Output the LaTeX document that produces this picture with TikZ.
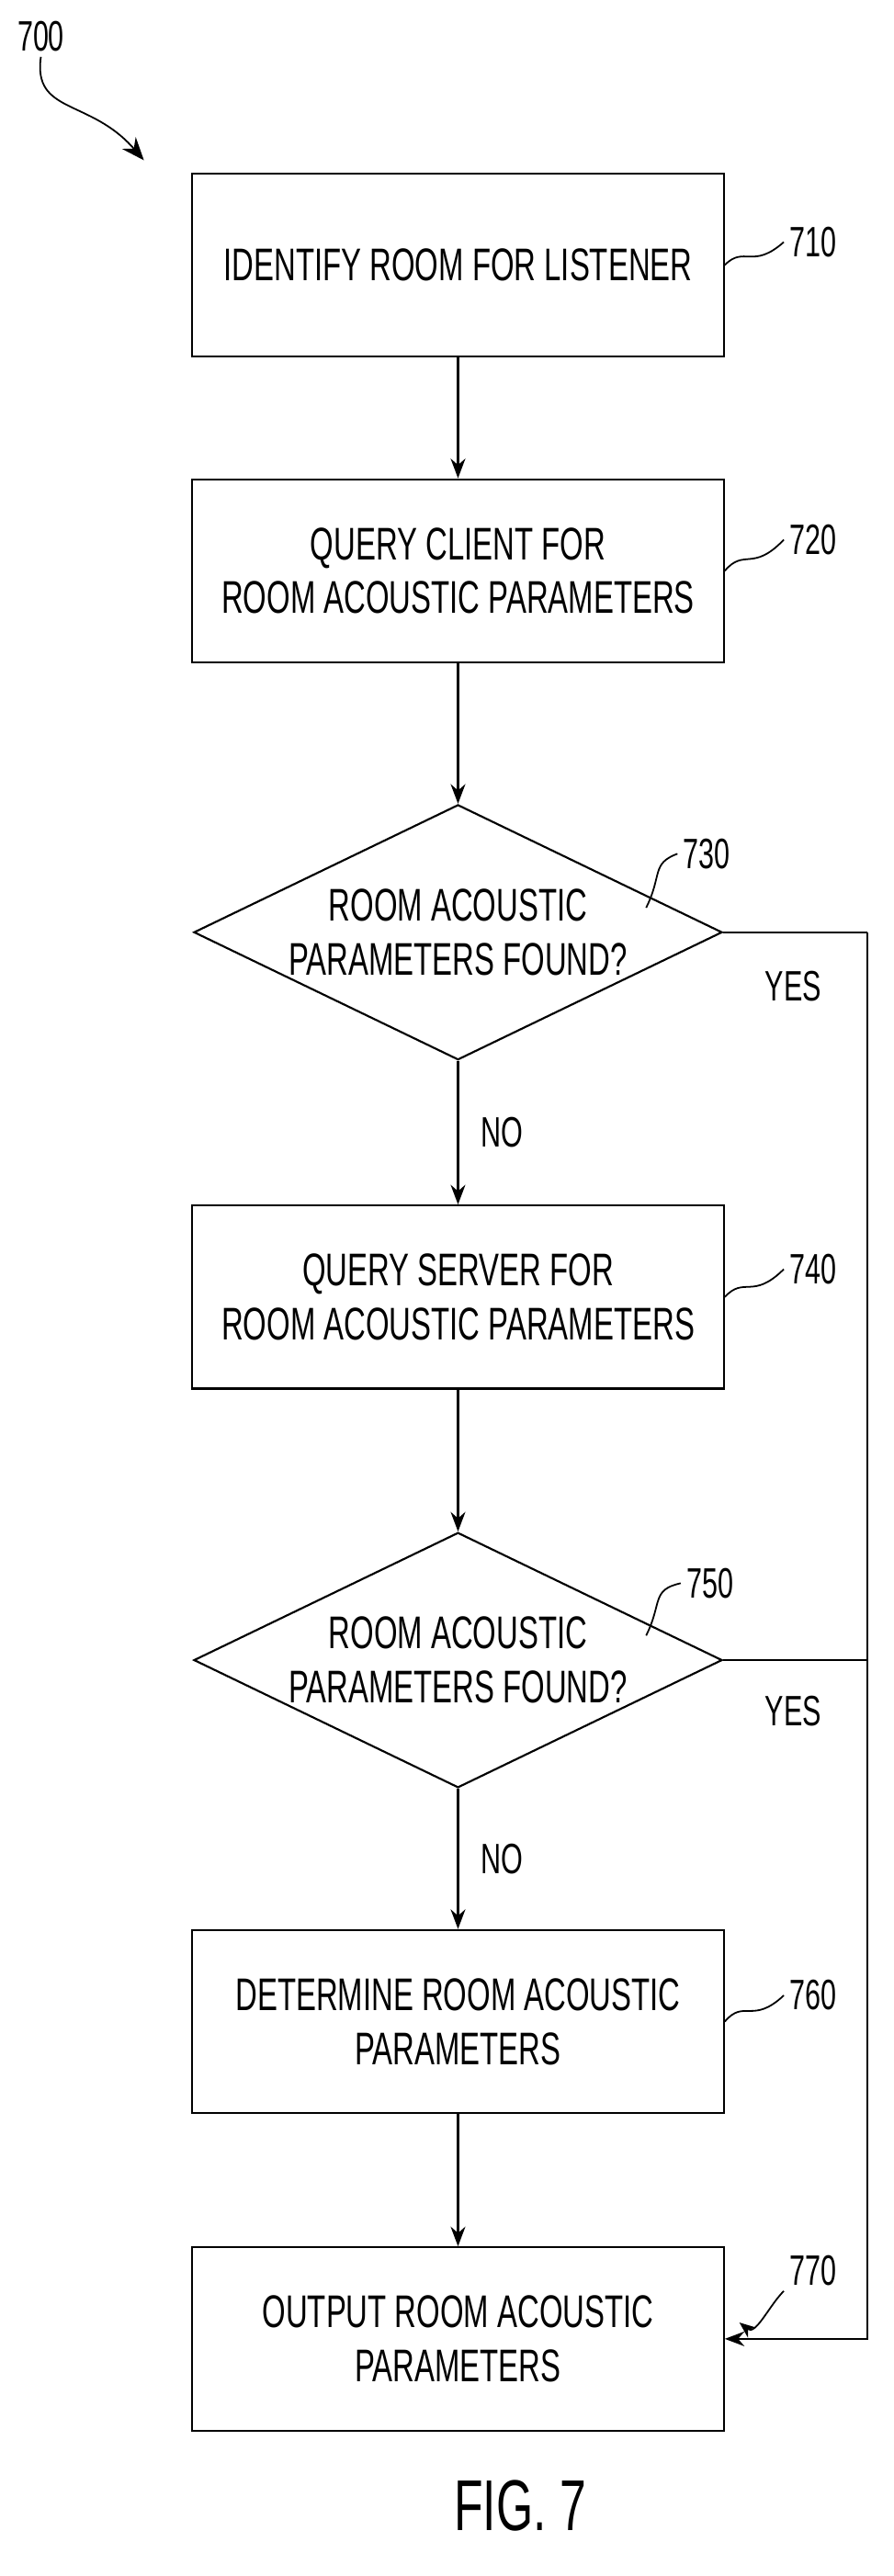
\documentclass[tikz,border=0pt]{standalone}
\usepackage{fontspec}
\setsansfont{Liberation Sans}[FakeStretch=0.66]
\usetikzlibrary{arrows.meta,
                shapes.geometric,
                positioning}
\begin{document}
\begin{tikzpicture}[x=1pt, y=-1pt,
node distance = 80pt,
   every node/.style = {font=\sffamily\fontsize{28}{33}\selectfont},
  BOX/.style = {draw, line width=1.2pt, minimum width=325pt, minimum height=112pt,
                align=center},
  DEC/.style = {draw, diamond, line width=1.2pt, minimum width=323pt,
                minimum height=156pt, inner sep=0pt, aspect=2.07, align=center},
  LNK/.style = {line width=1.2pt, -{Stealth[length=12pt, width=9pt]}},
  LBL/.style = {font=\sffamily\fontsize{26}{30}\selectfont}
                        ]
\useasboundingbox (0,0) rectangle (546,1575);
% boxes
\node (b710) [BOX] at (280,162) {IDENTIFY ROOM FOR LISTENER};
\node (b720) [BOX] at (280,349) {QUERY CLIENT FOR\\ROOM ACOUSTIC PARAMETERS};
\node (d730) [DEC] at (280,570) {ROOM ACOUSTIC\\PARAMETERS FOUND?};
\node (b740) [BOX] at (280,793) {QUERY SERVER FOR\\ROOM ACOUSTIC PARAMETERS};
\node (d750) [DEC] at (280,1015) {ROOM ACOUSTIC\\PARAMETERS FOUND?};
\node (b760) [BOX] at (280,1236) {DETERMINE ROOM ACOUSTIC\\PARAMETERS};
\node (b770) [BOX] at (280,1430) {OUTPUT ROOM ACOUSTIC\\PARAMETERS};
% arrows
\draw[LNK] (b710) -- (b720);
\draw[LNK] (b720) -- (d730);
\draw[LNK] (d730) -- node[right=10pt, LBL] {NO} (b740);
\draw[LNK] (b740) -- (d750);
\draw[LNK] (d750) -- node[right=10pt, LBL] {NO} (b760);
\draw[LNK] (b760) -- (b770);
\coordinate (rt) at (530,570);
\coordinate (rb) at (530,1430);
\draw[line width=1.2pt] (d730.east) -- (rt);
\draw[line width=1.2pt] (d750.east) -- (d750.east -| rt);
\draw[LNK] (rt) -- (rb) -- (b770.east);
\node (y1) [LBL] at (485,603) {YES};
\node (y2) [LBL] at (485,1046) {YES};
% reference numerals
\foreach \n/\yy in {710/148, 720/330, 740/776, 760/1220, 770/1388}{
  \node (r\n) [LBL] at (497,\yy) {\n};
}
\node (r730) [LBL] at (432,522) {730};
\node (r750) [LBL] at (434,968) {750};
\draw[line width=1pt] (b710.east) .. controls (455,150) and (460,165) .. (r710.west);
\draw[line width=1pt] (b720.east) .. controls (455,335) and (460,350) .. (r720.west);
\draw[line width=1pt] (b740.east) .. controls (455,780) and (460,795) .. (r740.west);
\draw[line width=1pt] (b760.east) .. controls (455,1222) and (460,1238) .. (r760.west);
\draw[line width=1pt] (395,555) .. controls (405,535) and (398,528) .. (r730.west);
\draw[line width=1pt] (395,1000) .. controls (405,980) and (398,972) .. (r750.west);
\coordinate (a770) at (452,1420);
\draw[line width=1pt, -{Stealth[length=10pt, width=8pt]}] (r770.south west) .. controls (470,1410) and (462,1428) .. (a770);
\node (r700) [LBL] at (25,22) {700};
\coordinate (a700) at (88,98);
\draw[line width=1pt, -{Stealth[length=14pt, width=11pt]}] (r700.south) .. controls (20,70) and (55,60) .. (a700);
\node (fig) [font=\sffamily\fontsize{44}{50}\selectfont] at (318,1532) {FIG. 7};
\end{tikzpicture}
\end{document}
